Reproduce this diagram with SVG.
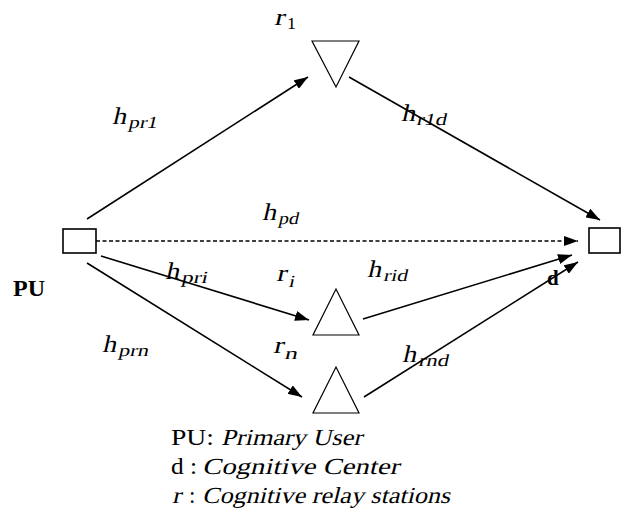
<svg xmlns="http://www.w3.org/2000/svg" width="621" height="517" viewBox="0 0 621 517">
  <style>
    .box { fill: #fff; stroke: #000; stroke-width: 1.6; }
    .tri { fill: #fff; stroke: #000; stroke-width: 1.2; }
    .link { fill: none; stroke: #000; stroke-width: 1.6; marker-end: url(#head); }
    .dash { stroke-dasharray: 4 2.5; }
    text { font-family: "Liberation Serif", "Times New Roman", serif; fill: #000; }
    .m { font-size: 24px; }
    .s { font-size: 17px; }
    .b { font-weight: bold; }
    .leg { font-size: 23px; }
  </style>
  <defs>
    <marker id="head" markerUnits="userSpaceOnUse" markerWidth="14" markerHeight="10" refX="14" refY="5" orient="auto">
      <path d="M0,0 L14,5 L0,10 z" fill="#000"/>
    </marker>
  </defs>

  <!-- connectors -->
  <g id="connectors">
    <line class="link" x1="87" y1="219" x2="308" y2="77"/>
    <line class="link" x1="349" y1="77" x2="600" y2="220"/>
    <line class="link dash" x1="96" y1="241" x2="578" y2="241"/>
    <line class="link" x1="101" y1="256" x2="309" y2="320"/>
    <line class="link" x1="87" y1="263" x2="302" y2="397"/>
    <line class="link" x1="363" y1="319" x2="572" y2="255"/>
    <line class="link" x1="364" y1="397" x2="578" y2="262"/>
  </g>

  <!-- channel labels (slanted math letters) -->
  <g id="channel-labels">
    <text class="m" transform="translate(112,124) skewX(-13)" textLength="14" lengthAdjust="spacingAndGlyphs">h</text>
    <text class="s" transform="translate(128,128) skewX(-13)" textLength="29" lengthAdjust="spacingAndGlyphs">pr1</text>

    <text class="m" transform="translate(401,121) skewX(-13)" textLength="14" lengthAdjust="spacingAndGlyphs">h</text>
    <text class="s" transform="translate(416,125) skewX(-13)" textLength="30" lengthAdjust="spacingAndGlyphs">r1d</text>

    <text class="m" transform="translate(262,220) skewX(-13)" textLength="14" lengthAdjust="spacingAndGlyphs">h</text>
    <text class="s" transform="translate(278,224) skewX(-13)" textLength="20" lengthAdjust="spacingAndGlyphs">pd</text>

    <text class="m" transform="translate(165,279) skewX(-13)" textLength="14" lengthAdjust="spacingAndGlyphs">h</text>
    <text class="s" transform="translate(181,283) skewX(-13)" textLength="26" lengthAdjust="spacingAndGlyphs">pri</text>

    <text class="m" transform="translate(367,277) skewX(-13)" textLength="14" lengthAdjust="spacingAndGlyphs">h</text>
    <text class="s" transform="translate(383,281) skewX(-13)" textLength="24" lengthAdjust="spacingAndGlyphs">rid</text>

    <text class="m" transform="translate(102,352) skewX(-13)" textLength="14" lengthAdjust="spacingAndGlyphs">h</text>
    <text class="s" transform="translate(118,356) skewX(-13)" textLength="30" lengthAdjust="spacingAndGlyphs">prn</text>

    <text class="m" transform="translate(402,362) skewX(-13)" textLength="14" lengthAdjust="spacingAndGlyphs">h</text>
    <text class="s" transform="translate(418,366) skewX(-13)" textLength="30" lengthAdjust="spacingAndGlyphs">rnd</text>
  </g>

  <!-- primary user -->
  <g id="pu">
    <rect class="box" x="63" y="229" width="33" height="24"/>
    <text class="b" x="13" y="296" font-size="24">PU</text>
  </g>

  <!-- cognitive center -->
  <g id="d">
    <rect class="box" x="589" y="228" width="31" height="25"/>
    <text class="b" x="547" y="285" font-size="21">d</text>
  </g>

  <!-- relay r1 -->
  <g id="r1">
    <polygon class="tri" points="312,41 359,41 336,87"/>
    <text class="m" transform="translate(274,25) skewX(-13)" textLength="10" lengthAdjust="spacingAndGlyphs">r</text>
    <text class="s" transform="translate(287,29)" textLength="9" lengthAdjust="spacingAndGlyphs">1</text>
  </g>

  <!-- relay ri -->
  <g id="ri">
    <polygon class="tri" points="313,335 359,335 336,289"/>
    <text class="m" transform="translate(276,281) skewX(-13)" textLength="10" lengthAdjust="spacingAndGlyphs">r</text>
    <text class="s" transform="translate(288,287) skewX(-13)" textLength="6" lengthAdjust="spacingAndGlyphs">i</text>
  </g>

  <!-- relay rn -->
  <g id="rn">
    <polygon class="tri" points="313,413 359,413 336,367"/>
    <text class="m" transform="translate(273,353) skewX(-13)" textLength="10" lengthAdjust="spacingAndGlyphs">r</text>
    <text class="s" transform="translate(284,359) skewX(-13)" textLength="13" lengthAdjust="spacingAndGlyphs">n</text>
  </g>

  <!-- legend -->
  <g id="legend">
    <text class="leg" x="171" y="445" textLength="43" lengthAdjust="spacingAndGlyphs">PU:</text>
    <text class="leg" transform="translate(221,445) skewX(-14)" textLength="141" lengthAdjust="spacingAndGlyphs">Primary User</text>

    <text class="leg" x="171" y="474" textLength="26" lengthAdjust="spacingAndGlyphs">d :</text>
    <text class="leg" transform="translate(202,474) skewX(-14)" textLength="197" lengthAdjust="spacingAndGlyphs">Cognitive Center</text>

    <text class="leg" transform="translate(172,503) skewX(-13)" textLength="9" lengthAdjust="spacingAndGlyphs">r</text>
    <text class="leg" x="189" y="503">:</text>
    <text class="leg" transform="translate(202,503) skewX(-14)" textLength="248" lengthAdjust="spacingAndGlyphs">Cognitive relay stations</text>
  </g>
</svg>
